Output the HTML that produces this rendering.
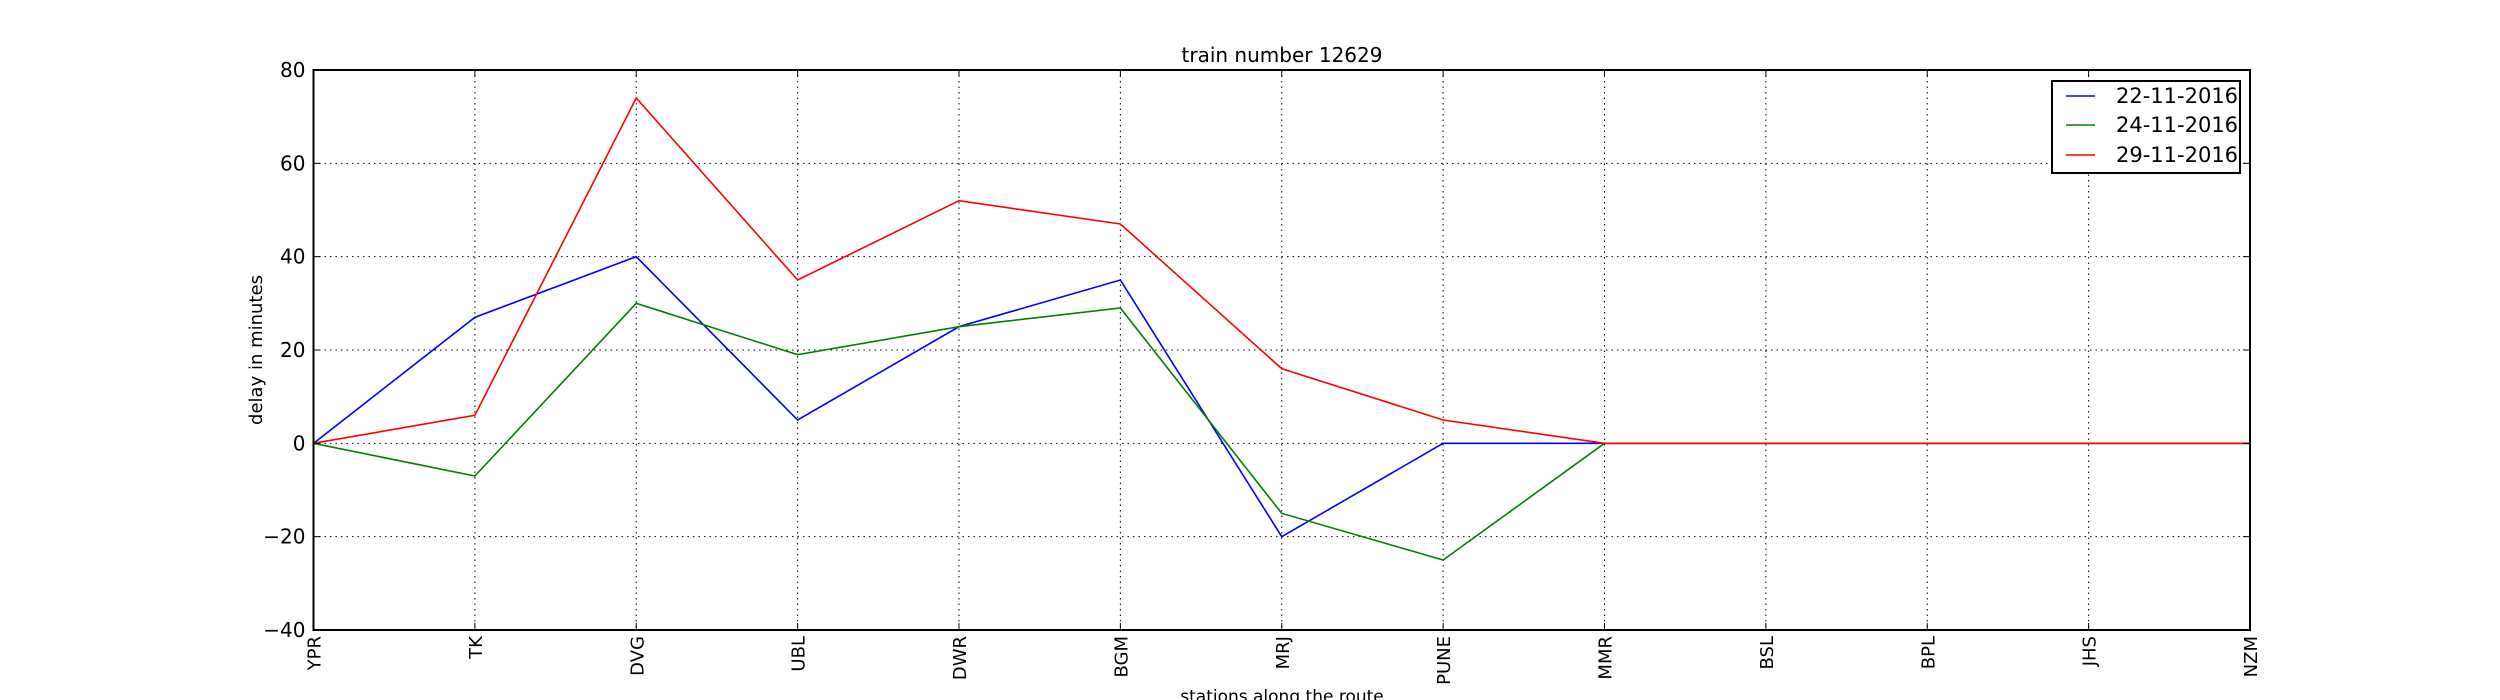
<!DOCTYPE html>
<html><head><meta charset="utf-8"><style>
html,body{margin:0;padding:0;background:#fff;}
svg{display:block;font-family:"DejaVu Sans","Liberation Sans",sans-serif;}
</style></head><body>
<svg id="chart" width="2500" height="700" viewBox="0 0 2500 700">
<rect width="2500" height="700" fill="#fff"/>
<g id="grid"></g>
<g id="series"></g>
<rect x="313.5" y="70" width="1936.5" height="560" fill="none" stroke="#000" stroke-width="2"/>
<g id="ticks"></g>
<text x="1282" y="62" font-size="20" text-anchor="middle">train number 12629</text>
<text transform="translate(262,350) rotate(-90)" font-size="18" text-anchor="middle">delay in minutes</text>
<text x="1282" y="702" font-size="17" text-anchor="middle">stations along the route</text>
<g>
<rect x="2052" y="81" width="188" height="92" fill="#fff" stroke="#000" stroke-width="2"/>
<line x1="2066" y1="96" x2="2095" y2="96" stroke="#0000ff" stroke-width="1.5"/>
<text x="2116" y="103" font-size="21">22-11-2016</text>
<line x1="2066" y1="125" x2="2095" y2="125" stroke="#008000" stroke-width="1.5"/>
<text x="2116" y="132" font-size="21">24-11-2016</text>
<line x1="2066" y1="155" x2="2095" y2="155" stroke="#ff0000" stroke-width="1.5"/>
<text x="2116" y="162" font-size="21">29-11-2016</text>
</g>
</svg>
<script>
const stations = ["YPR","TK","DVG","UBL","DWR","BGM","MRJ","PUNE","MMR","BSL","BPL","JHS","NZM"];
const yTicks = [-40,-20,0,20,40,60,80];
const delay22 = [0,27,40,5,25,35,-20,0,0,0,0,0,0];
const delay24 = [0,-7,30,19,25,29,-15,-25,0,0,0,0,0];
const delay29 = [0,6,74,35,52,47,16,5,0,0,0,0,0];

const NS="http://www.w3.org/2000/svg";
const L=313.5,R=2250,T=70,B=630,yMin=-40,yMax=80;
const xs=i=>L+(R-L)*i/(stations.length-1);
const ys=v=>B-(v-yMin)/(yMax-yMin)*(B-T);
function mk(tag,attrs,parent){const e=document.createElementNS(NS,tag);for(const k in attrs)e.setAttribute(k,attrs[k]);parent.appendChild(e);return e;}
const grid=document.getElementById('grid'),ticks=document.getElementById('ticks'),ser=document.getElementById('series');
stations.forEach((s,i)=>{
  const x=xs(i);
  const g=mk('line',{x1:x,y1:T,x2:x,y2:B,stroke:'#000','stroke-width':1,'stroke-dasharray':'1.5,4'},grid);
  
  
  const t1=mk('line',{x1:x,y1:B,x2:x,y2:B-7,stroke:'#000','stroke-width':1},ticks);
  
  
  const t2=mk('line',{x1:x,y1:T,x2:x,y2:T+7,stroke:'#000','stroke-width':1},ticks);
  
  
  const lb=mk('text',{transform:`translate(${x+7},${B+6}) rotate(-90)`,'font-size':18,'text-anchor':'end'},ticks);
  lb.textContent=s;
  
  
});
yTicks.forEach(v=>{
  const y=ys(v);
  const g=mk('line',{x1:L,y1:y,x2:R,y2:y,stroke:'#000','stroke-width':1,'stroke-dasharray':'1.5,4'},grid);
  
  
  const t1=mk('line',{x1:L,y1:y,x2:L+7,y2:y,stroke:'#000','stroke-width':1},ticks);
  
  
  const t2=mk('line',{x1:R,y1:y,x2:R-7,y2:y,stroke:'#000','stroke-width':1},ticks);
  
  
  const lb=mk('text',{x:L-8,y:y+7,'font-size':20,'text-anchor':'end'},ticks);
  lb.textContent=v<0?'\u2212'+Math.abs(v):String(v);
  
  
});
[[delay22,'#0000ff','series-22-11-2016'],[delay24,'#008000','series-24-11-2016'],[delay29,'#ff0000','series-29-11-2016']].forEach(([d,c,n])=>{
  const p=mk('polyline',{points:d.map((v,i)=>xs(i)+','+ys(v)).join(' '),fill:'none',stroke:c,'stroke-width':1.6},ser);
  
  
});
</script>
</body></html>
